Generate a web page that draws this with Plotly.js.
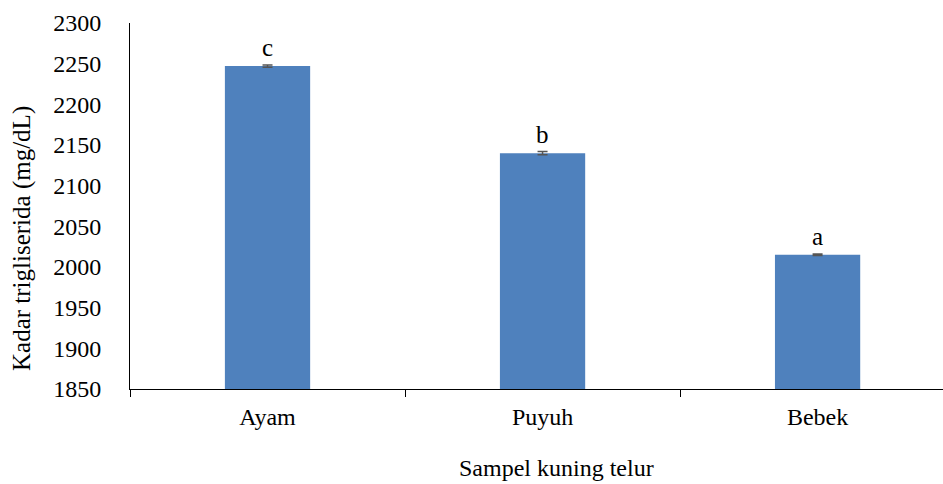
<!DOCTYPE html>
<html>
<head>
<meta charset="utf-8">
<script src="https://cdn.plot.ly/plotly-3.0.1.min.js"></script>
<style>html,body{margin:0;padding:0;background:#fff;}</style>
</head>
<body>
<div id="chart" style="width:943px;height:484px;"></div>
<script>
const categories = ["Ayam", "Puyuh", "Bebek"];
const values = [2247, 2140, 2015];
const errors = [1.5, 2, 1];
const letters = ["c", "b", "a"];
const yTitle = "Kadar trigliserida (mg/dL)";
const xTitle = "Sampel kuning telur";

const font = "'Liberation Serif', 'Times New Roman', serif";

const trace = {
  type: "bar",
  x: categories,
  y: values,
  width: 0.31,
  marker: {color: "#4f81bd"},
  error_y: {type: "data", array: errors, visible: true, color: "#555555", thickness: 1.5, width: 5},
  hoverinfo: "x+y"
};

const annotations = categories.map((c, i) => ({
  x: c, y: values[i] + errors[i], xref: "x", yref: "y",
  text: letters[i], showarrow: false, yanchor: "bottom", yshift: 2,
  font: {family: font, size: 25, color: "#000"}
}));
annotations.push({
  xref: "paper", yref: "paper", x: -0.1328, y: 0.41, text: yTitle, textangle: -90,
  showarrow: false, xanchor: "center", yanchor: "middle",
  font: {family: font, size: 25, color: "#000"}
});
annotations.push({
  xref: "paper", yref: "paper", x: 0.524, y: -0.2158, text: xTitle,
  showarrow: false, xanchor: "center", yanchor: "middle",
  font: {family: font, size: 24, color: "#000"}
});

const layout = {
  width: 943, height: 484,
  margin: {l: 130, r: 0, t: 23, b: 95},
  paper_bgcolor: "#fff", plot_bgcolor: "#fff",
  showlegend: false,
  font: {family: font, size: 24, color: "#000"},
  xaxis: {
    type: "category", range: [-0.5, 2.456],
    showline: true, linecolor: "#000", linewidth: 1,
    ticks: "outside", tickson: "boundaries", ticklen: 7, tickcolor: "#000",
    showgrid: false, zeroline: false, ticklabelstandoff: 6,
    tickfont: {family: font, size: 24, color: "#000"}
  },
  yaxis: {
    range: [1850, 2300], tickvals: [1850,1900,1950,2000,2050,2100,2150,2200,2250,2300],
    showline: true, linecolor: "#000", linewidth: 1,
    ticks: "", showgrid: false, zeroline: false, ticklabelstandoff: 23,
    tickfont: {family: font, size: 24, color: "#000"}
  },
  annotations: annotations
};

Plotly.newPlot("chart", [trace], layout, {displayModeBar: false, staticPlot: true});
</script>
</body>
</html>
